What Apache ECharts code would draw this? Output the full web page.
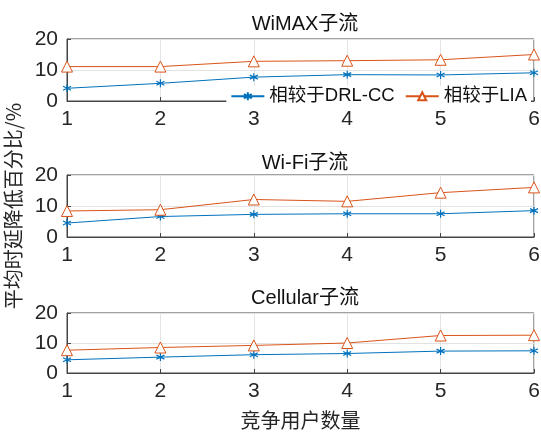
<!DOCTYPE html>
<html lang="zh-CN">
<head>
    <meta charset="UTF-8">
    <title>平均时延降低百分比</title>
    <script src="https://cdn.jsdelivr.net/npm/echarts@6/dist/echarts.min.js"></script>
    <style>
        * { margin: 0; padding: 0; }
        body { background: #fff; }
        #chart { width: 541px; height: 434px; }
    </style>
</head>
<body>
    <div id="chart"></div>
    <script>
        // 数据
        const users = ['1', '2', '3', '4', '5', '6'];
        const titles = ['WiMAX子流', 'Wi-Fi子流', 'Cellular子流'];
        const vsDrlcc = [
            [4.1, 5.7, 7.7, 8.5, 8.4, 9.1],
            [4.5, 6.6, 7.3, 7.5, 7.5, 8.5],
            [4.4, 5.3, 6.1, 6.5, 7.3, 7.4]
        ];
        const vsLia = [
            [11.1, 11.1, 12.8, 13.0, 13.3, 15.0],
            [8.4, 8.8, 12.1, 11.5, 14.3, 16.0],
            [7.6, 8.5, 9.2, 10.0, 12.5, 12.6]
        ];
        const yTicks = [0, 10, 20];

        const blue = '#0072BD';
        const orange = '#D95319';
        const font = '"Liberation Sans", Arial, "Noto Sans CJK SC", sans-serif';
        const cjk = '"Noto Sans CJK SC", sans-serif';
        const star = 'path://M0,-5L0,5M-4.3,-2.5L4.3,2.5M-4.3,2.5L4.3,-2.5';

        const grids = [
            { left: 67, right: 7, top: 39, height: 62 },
            { left: 67, right: 7, top: 175, height: 62 },
            { left: 67, right: 7, top: 313, height: 60 }
        ];
        const titleTops = [9, 148, 283];

        const chart = echarts.init(document.getElementById('chart'));
        const option = {
            animation: false,
            textStyle: { fontFamily: font },
            title: titles.map((t, i) => ({
                text: t, left: 300, top: titleTops[i], textAlign: 'center',
                textStyle: { fontSize: 20, fontWeight: 'normal', color: '#111', fontFamily: font }
            })),
            legend: {
                data: ['相较于DRL-CC', '相较于LIA'],
                right: 10, top: 86, itemGap: 10, itemWidth: 33, itemHeight: 10,
                backgroundColor: '#fff', padding: [1, 4, 1, 4],
                textStyle: { fontSize: 18.5, color: '#111', fontFamily: font }
            },
            grid: grids.map(g => Object.assign({
                show: true, borderColor: '#444', borderWidth: 1, backgroundColor: 'transparent',
                containLabel: false, outerBoundsMode: 'none'
            }, g)),
            xAxis: grids.map((g, i) => ({
                type: 'category', gridIndex: i, data: users, boundaryGap: false,
                axisLine: { lineStyle: { color: '#444' } },
                axisTick: { inside: true, length: 4, lineStyle: { color: '#444' } },
                axisLabel: { fontSize: 21, color: '#262626', margin: 8 },
                splitLine: { show: true, lineStyle: { color: '#e3e3e3' } },
                name: i === 2 ? '竞争用户数量' : '', nameLocation: 'middle', nameGap: 37,
                nameTextStyle: { fontSize: 20, color: '#262626', fontFamily: cjk }
            })),
            yAxis: grids.map((g, i) => ({
                type: 'value', gridIndex: i, min: yTicks[0], max: yTicks[yTicks.length - 1], interval: 10,
                axisLine: { show: true, lineStyle: { color: '#444' } },
                axisTick: { show: true, inside: true, length: 4, lineStyle: { color: '#444' } },
                axisLabel: { fontSize: 21, color: '#262626', margin: 9 },
                splitLine: { show: true, lineStyle: { color: '#e3e3e3' } },
                name: i === 1 ? '平均时延降低百分比/%' : '', nameLocation: 'middle', nameGap: 38,
                nameTextStyle: { fontSize: 20, color: '#262626', fontFamily: cjk }
            })),
            series: [0, 1, 2].flatMap(i => [
                {
                    name: '相较于DRL-CC', type: 'line', xAxisIndex: i, yAxisIndex: i,
                    data: vsDrlcc[i], symbol: star, symbolSize: 8,
                    lineStyle: { color: blue, width: 1 },
                    itemStyle: { color: 'none', borderColor: blue, borderWidth: 1.2 }
                },
                {
                    name: '相较于LIA', type: 'line', xAxisIndex: i, yAxisIndex: i,
                    data: vsLia[i], symbol: 'triangle', symbolSize: 11,
                    lineStyle: { color: orange, width: 1 },
                    itemStyle: { color: '#fff', borderColor: orange, borderWidth: 1 }
                }
            ])
        };
        chart.setOption(option);
    </script>
</body>
</html>
